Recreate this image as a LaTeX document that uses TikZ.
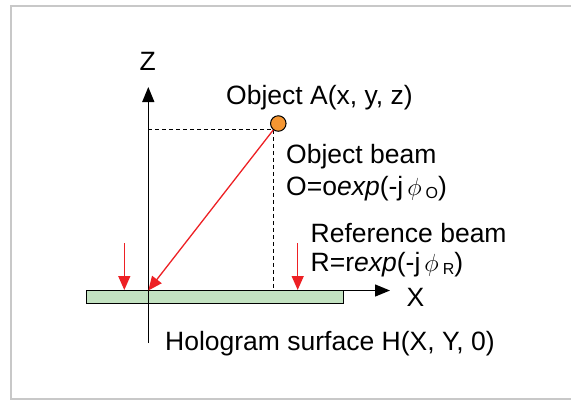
\documentclass[tikz,border=0pt]{standalone}
\usepackage{fontspec}
\setmainfont{Liberation Sans}
\usetikzlibrary{arrows.meta}
\definecolor{framegray}{RGB}{200,200,200}
\definecolor{beamred}{RGB}{237,32,36}
\definecolor{holo}{RGB}{195,226,193}
\definecolor{objorange}{RGB}{245,150,50}
\newcommand{\subtxt}[1]{\raisebox{-3bp}{\fontsize{16bp}{16bp}\selectfont #1}}
\begin{document}
\begin{tikzpicture}[x=1bp,y=-1bp,
  lbl/.style={font=\fontsize{26.5bp}{30bp}\selectfont, inner sep=0pt, anchor=base west},
  axislbl/.style={font=\fontsize{26.5bp}{30bp}\selectfont, inner sep=0pt},
  axisline/.style={line width=1.3bp, -{Triangle[length=15bp,width=12bp]}},
  redarr/.style={draw=beamred, line width=1.3bp, -{Triangle[length=14bp,width=12bp]}},
  dashline/.style={line width=1bp, dash pattern=on 4bp off 3bp}
]
\useasboundingbox (0,0) rectangle (571,401);
% frame
\draw[framegray, line width=2bp] (576,6) -- (11,6) -- (11,399) -- (576,399);
% coordinates
\coordinate (orig) at (148.3,290.5);
\coordinate (zbot) at (148.3,343);
\coordinate (ztip) at (148.3,87);
\coordinate (xtip) at (390,290.5);
\coordinate (dh) at (148.3,129);
\coordinate (dc) at (273.5,129);
\coordinate (dv) at (273.5,290.5);
\coordinate (r1s) at (124.3,243);
\coordinate (r1e) at (124.3,290);
\coordinate (r2s) at (297.7,243);
\coordinate (r2e) at (297.7,290);
% hologram plate
\node (plate) [draw, fill=holo, line width=1.2bp, inner sep=0pt, minimum width=257bp, minimum height=12.5bp, anchor=north west] at (85.5,290) {};
% axes
\draw[axisline] (orig) -- (xtip);
\draw[axisline] (zbot) -- (ztip);
% dashed projections
\draw[dashline] (dh) -- (dc) -- (dv);
% object
\node (A) [circle, draw, fill=objorange, minimum size=15.5bp, inner sep=0pt, line width=1bp] at (278.3,123.5) {};
% beams
\draw[redarr] (A) -- (orig);
\draw[redarr] (r1s) -- (r1e);
\draw[redarr] (r2s) -- (r2e);
% labels
\node[axislbl] (zl) at (147.7,61) {Z};
\node[axislbl] (xl) at (415.5,297) {X};
\node[lbl] (objA) at (226,104.3) {Object A(x, y, z)};
\node[lbl] (ob) at (286,163.3) {Object beam};
\node[lbl] (oeq) at (286,195.5) {O=o\textit{exp}(-j\hspace{4bp}$\phi$\hspace{4bp}\subtxt{O})};
\node[lbl] (rb) at (310.5,242.7) {Reference beam};
\node[lbl] (req) at (310.5,271.7) {R=r\textit{exp}(-j\hspace{4bp}$\phi$\hspace{4bp}\subtxt{R})};
\node[lbl] (htxt) at (165,350) {Hologram surface H(X, Y, 0)};
\end{tikzpicture}
\end{document}
